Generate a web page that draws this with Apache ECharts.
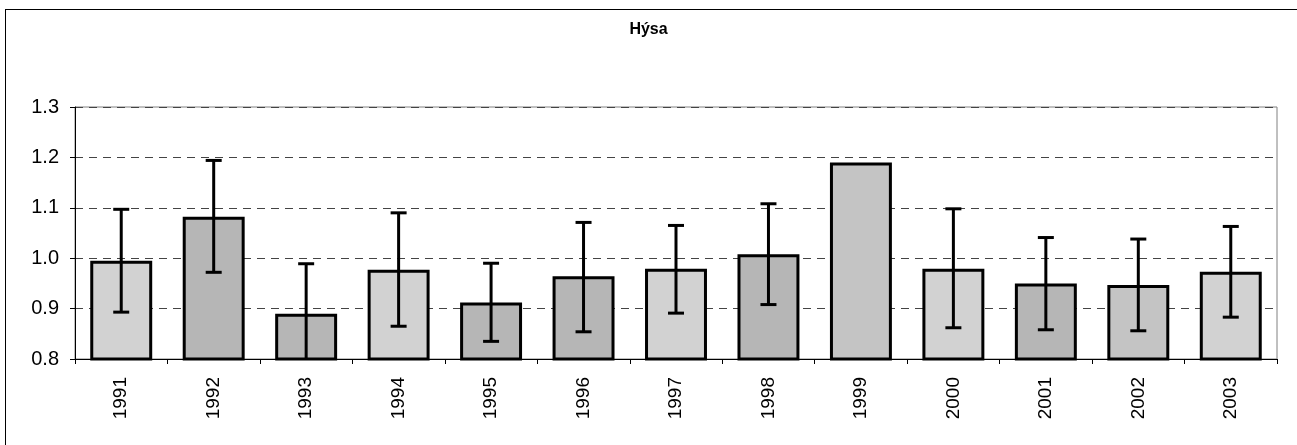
<!DOCTYPE html>
<html>
<head>
<meta charset="utf-8">
<script src="https://cdn.jsdelivr.net/npm/echarts@6/dist/echarts.min.js"></script>
<style>
  html, body { margin: 0; padding: 0; background: #fff; }
  #frame { position: absolute; left: 5px; top: 9px; width: 1300px; height: 445px; border-left: 1px solid #000; border-top: 1px solid #000; }
  #chart { position: absolute; left: 0; top: 0; width: 1297px; height: 445px; }
</style>
</head>
<body>
<div id="frame"></div>
<div id="chart"></div>
<script>
  // categories
  const years = ['1991', '1992', '1993', '1994', '1995', '1996', '1997', '1998', '1999', '2000', '2001', '2002', '2003'];
  // bar heights
  const means = [0.995, 1.082, 0.890, 0.977, 0.912, 0.964, 0.979, 1.008, 1.190, 0.979, 0.950, 0.947, 0.973];
  // error bar ends (null = no error bar)
  const lows = [0.893, 0.972, 0.791, 0.865, 0.835, 0.854, 0.891, 0.908, null, 0.862, 0.858, 0.856, 0.883];
  const highs = [1.097, 1.194, 0.989, 1.090, 0.990, 1.071, 1.065, 1.108, null, 1.098, 1.041, 1.038, 1.063];
  // shade group of each bar
  const shade = ['light', 'dark', 'dark', 'light', 'dark', 'dark', 'light', 'dark', 'mid', 'light', 'dark', 'mid', 'light'];
  const yTicks = [0.8, 1.3, 0.1];

  const palette = { light: '#d2d2d2', dark: '#b6b6b6', mid: '#c4c4c4' };

  const chart = echarts.init(document.getElementById('chart'));

  chart.setOption({
    animation: false,
    title: {
      text: 'Hýsa',
      left: 'center',
      top: 17,
      textStyle: { fontFamily: 'Liberation Sans', fontSize: 16, fontWeight: 'bold', color: '#000' }
    },
    grid: {
      left: 75, right: 20, top: 107, bottom: 86,
      show: true,
      borderColor: '#808080',
      borderWidth: 1
    },
    xAxis: {
      type: 'category',
      data: years,
      axisLine: { lineStyle: { color: '#000', width: 1 } },
      axisTick: { show: true, length: 5, lineStyle: { color: '#000' } },
      axisLabel: {
        rotate: 90,
        margin: 18,
        fontFamily: 'Liberation Sans',
        fontSize: 19,
        color: '#000'
      }
    },
    yAxis: {
      type: 'value',
      min: yTicks[0],
      max: yTicks[1],
      interval: yTicks[2],
      axisLine: { show: true, lineStyle: { color: '#000', width: 1 } },
      axisTick: { show: true, length: 5, lineStyle: { color: '#000' } },
      axisLabel: {
        formatter: v => v.toFixed(1),
        margin: 16,
        fontFamily: 'Liberation Sans',
        fontSize: 20,
        color: '#000'
      },
      splitLine: { show: true, lineStyle: { color: '#444', type: [8, 6], width: 1 } }
    },
    series: [
      {
        type: 'bar',
        barWidth: '67%',
        data: means.map((v, i) => ({
          value: v,
          itemStyle: { color: palette[shade[i]] }
        })),
        itemStyle: { borderColor: '#000', borderWidth: 3 }
      },
      {
        type: 'custom',
        clip: true,
        z: 5,
        data: years.map((y, i) => [i, lows[i], highs[i]]).filter(d => d[1] !== null),
        renderItem: function (params, api) {
          const x = api.value(0);
          const lo = api.coord([x, api.value(1)]);
          const hi = api.coord([x, api.value(2)]);
          const half = 8;
          const style = { stroke: '#000', lineWidth: 3 };
          return {
            type: 'group',
            children: [
              { type: 'line', shape: { x1: hi[0], y1: hi[1], x2: lo[0], y2: lo[1] }, style: style },
              { type: 'line', shape: { x1: hi[0] - half, y1: hi[1], x2: hi[0] + half, y2: hi[1] }, style: style },
              { type: 'line', shape: { x1: lo[0] - half, y1: lo[1], x2: lo[0] + half, y2: lo[1] }, style: style }
            ]
          };
        }
      }
    ]
  });
</script>
</body>
</html>
